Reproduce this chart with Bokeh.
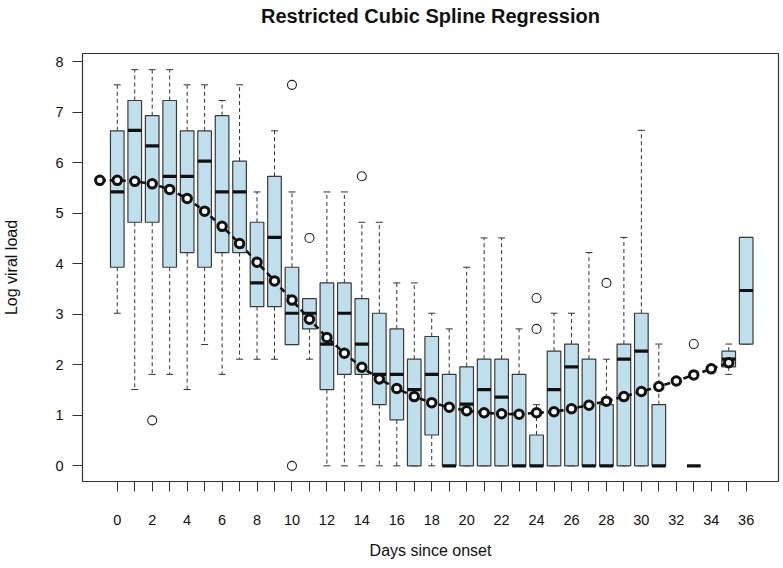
from bokeh.plotting import figure
from bokeh.models import FixedTicker, Range1d, ColumnDataSource, LinearAxis
from bokeh.embed import file_html
from bokeh.resources import INLINE
import math

# ---- data ----
days = list(range(37))
whisker_low = [3.02, 1.51, 1.81, 1.81, 1.51, 2.40, 1.81, 2.11, 2.11, 2.11,
               2.40, 2.11, 0.00, 0.00, 0.00, 0.00, 0.00, 0.00, 0.00, 0.00,
               0.00, 0.00, 0.00, 0.00, 0.00, 0.00, 0.00, 0.00, 0.00, 0.00,
               0.00, 0.00, math.nan, 0.00, math.nan, 1.81, 2.41]
q1 = [3.93, 4.82, 4.82, 3.93, 4.22, 3.93, 4.22, 4.22, 3.15, 3.15,
      2.40, 2.71, 1.51, 1.81, 1.81, 1.21, 0.91, 0.00, 0.61, 0.00,
      0.00, 0.00, 0.00, 0.00, 0.00, 0.00, 0.00, 0.00, 0.00, 0.00,
      0.00, 0.00, math.nan, 0.00, math.nan, 1.96, 2.41]
median = [5.42, 6.64, 6.33, 5.73, 5.73, 6.03, 5.42, 5.42, 3.62, 4.52,
          3.02, 3.02, 2.41, 3.02, 2.41, 1.81, 1.81, 1.51, 1.81, 0.00,
          1.22, 1.51, 1.36, 0.00, 0.00, 1.51, 1.96, 0.00, 0.00, 2.11,
          2.27, 0.00, math.nan, 0.00, math.nan, 2.11, 3.47]
q3 = [6.63, 7.23, 6.93, 7.23, 6.63, 6.63, 6.93, 6.03, 4.82, 5.73,
      3.93, 3.31, 3.62, 3.62, 3.31, 3.02, 2.71, 2.11, 2.56, 1.81,
      1.96, 2.11, 2.11, 1.81, 0.61, 2.27, 2.41, 2.11, 1.21, 2.41,
      3.02, 1.21, math.nan, 0.00, math.nan, 2.27, 4.52]
whisker_high = [7.54, 7.84, 7.84, 7.84, 7.54, 7.54, 7.23, 7.54, 5.42, 6.63,
                5.42, 3.31, 5.42, 5.42, 4.82, 4.82, 3.62, 3.62, 3.02, 2.71,
                3.93, 4.51, 4.51, 2.71, 1.21, 3.02, 3.02, 4.22, 2.11, 4.52,
                6.64, 2.41, math.nan, 0.00, math.nan, 2.41, 4.52]

outlier_day = [2, 10, 10, 11, 14, 24, 24, 28, 33]
outlier_val = [0.90, 7.54, 0.00, 4.51, 5.73, 3.32, 2.71, 3.62, 2.41]

fit_x = list(range(-1, 36))
fit_y = [5.65, 5.65, 5.63, 5.58, 5.47, 5.29, 5.04, 4.74, 4.40, 4.03,
         3.66, 3.28, 2.90, 2.54, 2.23, 1.95, 1.72, 1.53, 1.37, 1.25,
         1.16, 1.09, 1.05, 1.03, 1.02, 1.05, 1.07, 1.13, 1.20, 1.28,
         1.37, 1.47, 1.57, 1.68, 1.80, 1.92, 2.04]

x_ticks = list(range(0, 37))
y_ticks = list(range(0, 9))
title_text = "Restricted Cubic Spline Regression"

# ---- figure ----
FONT = "Liberation Sans"
X0, X1, Y0, Y1 = -1.99, 37.85, -0.31, 8.16
p = figure(width=783, height=568, output_backend="svg", toolbar_location=None,
           x_range=Range1d(X0, X1), y_range=Range1d(Y0, Y1),
           min_border_left=82, min_border_right=5, min_border_top=53,
           min_border_bottom=87)
p.grid.visible = False
p.outline_line_color = "#333333"
p.outline_line_width = 1.2
p.background_fill_color = "white"
p.border_fill_color = "white"

# title: drawn as the label of a bare axis above the frame (centred on it)
top_axis = LinearAxis(ticker=FixedTicker(ticks=[]), axis_label=title_text,
                      axis_line_color=None, major_tick_line_color=None,
                      minor_tick_line_color=None, major_tick_out=0,
                      major_label_text_font_size="0px", major_label_standoff=0,
                      axis_label_standoff=27,
                      axis_label_text_font=FONT, axis_label_text_font_size="20px",
                      axis_label_text_font_style="bold",
                      axis_label_text_color="#111111")
p.add_layout(top_axis, "above")

keep = [i for i in range(len(days)) if not math.isnan(median[i])]
src = ColumnDataSource(dict(
    x=[days[i] for i in keep],
    left=[days[i] - 0.39 for i in keep],
    right=[days[i] + 0.39 for i in keep],
    sl=[days[i] - 0.2 for i in keep],
    sr=[days[i] + 0.2 for i in keep],
    wlo=[whisker_low[i] for i in keep],
    q1=[q1[i] for i in keep],
    med=[median[i] for i in keep],
    q3=[q3[i] for i in keep],
    whi=[whisker_high[i] for i in keep],
))

# whiskers
p.segment(x0="x", x1="x", y0="q3", y1="whi", source=src, line_color="#333333",
          line_width=1, line_dash="4 3")
p.segment(x0="x", x1="x", y0="q1", y1="wlo", source=src, line_color="#333333",
          line_width=1, line_dash="4 3")
# staples
p.segment(x0="sl", x1="sr", y0="whi", y1="whi", source=src, line_color="#333333", line_width=1)
p.segment(x0="sl", x1="sr", y0="wlo", y1="wlo", source=src, line_color="#333333", line_width=1)
# boxes
p.quad(left="left", right="right", bottom="q1", top="q3", source=src,
       fill_color="#BEDFEB", line_color="#3a3a3a", line_width=1.2)
# medians
p.segment(x0="left", x1="right", y0="med", y1="med", source=src,
          line_color="#111111", line_width=3.2)

# outliers
p.scatter(outlier_day, outlier_val, marker="circle", size=9, fill_color=None,
          line_color="#222222", line_width=1.1)

# spline fit
p.line(fit_x, fit_y, line_color="#111111", line_width=2.6, line_dash="6 4")
p.scatter(fit_x, fit_y, marker="circle", size=8.5, fill_color="white",
          line_color="#111111", line_width=3)

# axes
xa = p.below[0]
ya = p.left[0]
xa.ticker = FixedTicker(ticks=x_ticks)
xa.major_label_overrides = {d: (str(d) if d % 2 == 0 else "") for d in x_ticks}
ya.ticker = FixedTicker(ticks=y_ticks)
for ax in (xa, ya):
    ax.axis_line_color = None
    ax.major_tick_line_color = "#333333"
    ax.major_tick_line_width = 1
    ax.major_tick_out = 10
    ax.major_tick_in = 0
    ax.minor_tick_line_color = None
    ax.major_label_text_font = FONT
    ax.major_label_text_font_size = "14.5px"
    ax.major_label_text_color = "#111111"
    ax.axis_label_text_font = FONT
    ax.axis_label_text_font_size = "16px"
    ax.axis_label_text_font_style = "normal"
    ax.axis_label_text_color = "#111111"

xa.axis_label = "Days since onset"
xa.major_label_standoff = 23
xa.axis_label_standoff = 14
ya.axis_label = "Log viral load"
ya.major_label_standoff = 9
ya.axis_label_standoff = 32
ya.major_label_orientation = "horizontal"

open("out.html", "w").write(file_html(p, INLINE))
